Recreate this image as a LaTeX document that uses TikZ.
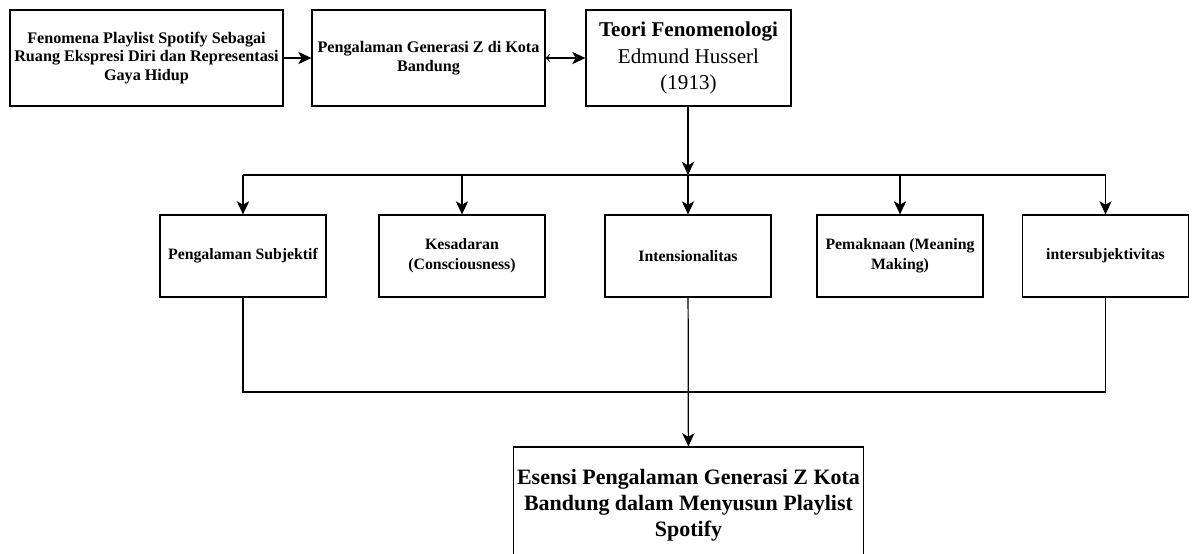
\documentclass[tikz,border=0pt]{standalone}
\usepackage{fontspec}
\setmainfont{Liberation Serif}
\usepackage{tikz}
\usetikzlibrary{arrows,arrows.meta,positioning}

\begin{document}
\begin{tikzpicture}[
    x=0.02cm, y=-0.02cm,
    box/.style={rectangle, draw, line width=0.7pt, align=center, inner sep=2pt, minimum height=1.64cm, minimum width=3.32cm, font=\bfseries\fontsize{9}{11.5}\selectfont},
    topbox/.style={box, minimum height=1.92cm, font=\bfseries\fontsize{9.2}{10.7}\selectfont},
    big/.style={box, font=\fontsize{12}{15}\selectfont},
    arrow/.style={->, >={Stealth[length=7.5pt,width=7pt,inset=2pt]}, line width=0.7pt}
]
\useasboundingbox (0,0) rectangle (1193,554);
\clip (0,0) rectangle (1193,554);

\node[topbox, minimum width=5.46cm] (fenomena) at (146.5,58) {Fenomena Playlist Spotify Sebagai\\Ruang Ekspresi Diri dan Representasi\\Gaya Hidup};
\node[topbox, minimum width=4.66cm] (pengalaman) at (428.5,58) {Pengalaman Generasi Z di Kota\\Bandung};
\node[big, minimum height=1.92cm, minimum width=4.1cm] (teori) at (688.5,58) {\textbf{Teori Fenomenologi}\\Edmund Husserl\\(1913)};

\node[box] (subjektif) at (243,256) {Pengalaman Subjektif};
\node[box] (kesadaran) at (462,256) {Kesadaran\\(Consciousness)};
\node[box] (intensi) at (688,256) {Intensionalitas};
\node[box] (makna) at (900,256) {Pemaknaan (Meaning\\Making)};
\node[box] (inter) at (1105.5,256) {intersubjektivitas};

\node[big, font=\bfseries\fontsize{12.5}{14.8}\selectfont, minimum width=6.94cm, minimum height=2.32cm] (esensi) at (688.5,505) {Esensi Pengalaman Generasi Z Kota\\Bandung dalam Menyusun Playlist\\Spotify};

\coordinate (split) at (688,175);
\coordinate (merge) at (688,392);

\draw[arrow] (fenomena) -- (pengalaman);
\draw[arrow, to->] (pengalaman) -- (teori);

% cabang ke lima aspek
\draw[arrow] (teori.south -| split) -- (split);
\draw[line width=0.7pt] (split -| subjektif) -- (split -| inter);
\foreach \n in {subjektif,kesadaran,intensi,makna,inter}
    \draw[arrow] (split -| \n) -- (\n);

% menuju esensi
\draw[line width=0.7pt] (subjektif) -- (subjektif |- merge) -- (inter |- merge) -- (inter);
\draw[arrow] (intensi) -- (esensi);

\end{tikzpicture}
\end{document}
